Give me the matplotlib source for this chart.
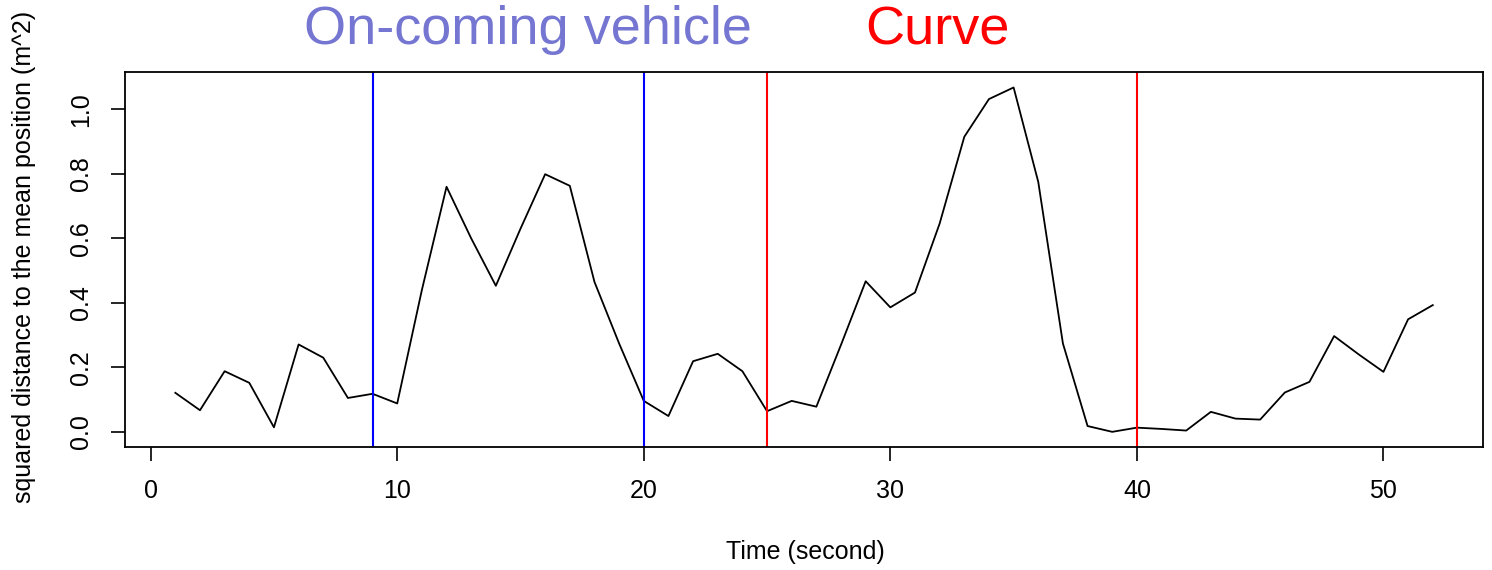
import matplotlib
matplotlib.use("Agg")
import matplotlib.pyplot as plt

# time index and squared distance values
time_sec = list(range(1, 53))
sq_dist = [0.121, 0.067, 0.188, 0.152, 0.014, 0.271, 0.230, 0.105, 0.118, 0.088,
           0.44, 0.760, 0.60, 0.453, 0.63, 0.799, 0.763, 0.465, 0.274, 0.096,
           0.049, 0.219, 0.242, 0.188, 0.064, 0.096, 0.078, 0.27, 0.467, 0.386,
           0.432, 0.646, 0.915, 1.032, 1.068, 0.775, 0.274, 0.018, 0.0, 0.013,
           0.009, 0.004, 0.062, 0.041, 0.038, 0.122, 0.155, 0.297, 0.24, 0.186,
           0.349, 0.393]

oncoming_marks = [9, 20]
curve_marks = [25, 40]

plt.rcParams['font.family'] = ['Liberation Sans', 'DejaVu Sans']

fig = plt.figure(figsize=(14.92, 5.70), dpi=100)
ax = fig.add_axes([0.0838, 0.2158, 0.9102, 0.6579])

ax.plot(time_sec, sq_dist, color='black', lw=1.3)
for t in oncoming_marks:
    ax.axvline(t, color='blue', lw=1.5)
for t in curve_marks:
    ax.axvline(t, color='red', lw=1.5)

ax.set_xlim(-1.04, 54.04)
ax.set_ylim(-0.047, 1.116)
ax.set_xticks([0, 10, 20, 30, 40, 50])
ax.set_yticks([0.0, 0.2, 0.4, 0.6, 0.8, 1.0])
ax.set_yticklabels(['0.0', '0.2', '0.4', '0.6', '0.8', '1.0'], rotation=90, va='center')
ax.tick_params(direction='out', length=10, width=1.2, labelsize=18, pad=13)
for s in ax.spines.values():
    s.set_linewidth(1.3)

fig.text(0.5395, 0.032, 'Time (second)', ha='center', va='center', fontsize=18)
fig.text(0.016, 0.549, 'squared distance to the mean position (m^2)', rotation=90,
         ha='center', va='center', fontsize=18)

fig.text(0.354, 0.947, 'On-coming vehicle', color='#7575d2', ha='center', va='center', fontsize=39)
fig.text(0.628, 0.947, 'Curve', color='#ff0000', ha='center', va='center', fontsize=39)

fig.savefig('out.png', dpi=100)
